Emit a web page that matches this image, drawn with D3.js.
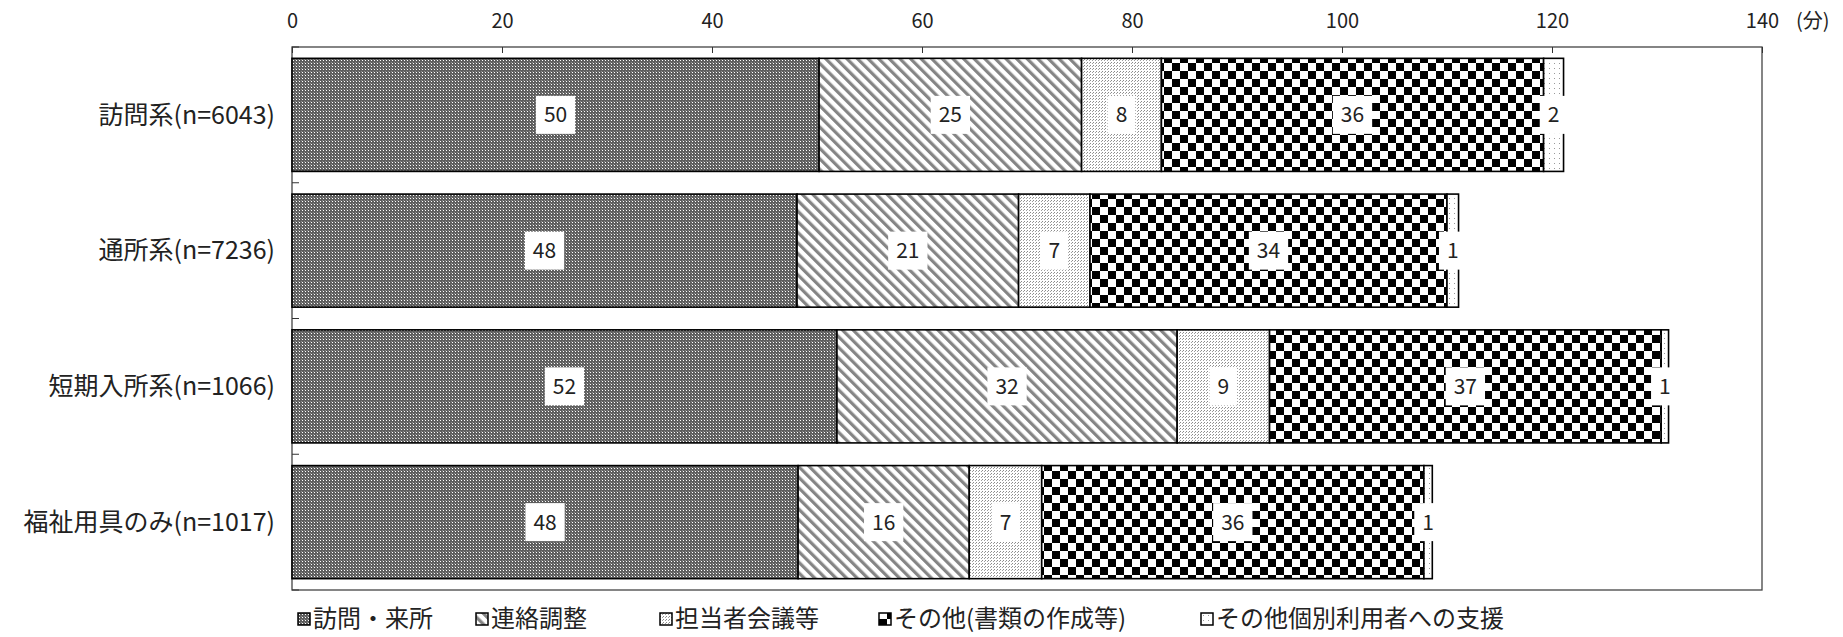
<!DOCTYPE html>
<html>
<head>
<meta charset="utf-8">
<script src="https://cdn.jsdelivr.net/npm/d3@7"></script>
<style>
body { margin: 0; background: #fff; }
text { font-family: "Noto Sans CJK JP", "Noto Sans", sans-serif; fill: #222; }
</style>
</head>
<body>
<svg id="chart" width="1843" height="637"></svg>
<script>
// categories (rows) and the five series, values in minutes
var categories = ["訪問系(n=6043)", "通所系(n=7236)", "短期入所系(n=1066)", "福祉用具のみ(n=1017)"];
var seriesNames = ["訪問・来所", "連絡調整", "担当者会議等", "その他(書類の作成等)", "その他個別利用者への支援"];
var visit = [50.2, 48.1, 51.9, 48.2];
var contact = [25.0, 21.1, 32.4, 16.3];
var meeting = [7.6, 6.8, 8.8, 6.9];
var documents = [36.4, 34.0, 37.3, 36.4];
var otherSupport = [1.9, 1.1, 0.7, 0.8];
var xTicks = [0, 20, 40, 60, 80, 100, 120, 140];
var unitLabel = "(分)";

var svg = d3.select("#chart"),
    margin = {top: 47, right: 81, bottom: 47, left: 292},
    width = +svg.attr("width") - margin.left - margin.right,
    height = +svg.attr("height") - margin.top - margin.bottom;

// rows for the stack
var rows = categories.map(function(c, i) {
    var r = {cat: c};
    r[seriesNames[0]] = visit[i];
    r[seriesNames[1]] = contact[i];
    r[seriesNames[2]] = meeting[i];
    r[seriesNames[3]] = documents[i];
    r[seriesNames[4]] = otherSupport[i];
    return r;
});
var stacked = d3.stack().keys(seriesNames)(rows);

var x = d3.scaleLinear().domain([0, 140]).range([0, width]);
var y = d3.scaleBand().domain(categories).range([0, height])
    .paddingInner(0.167).paddingOuter(0.0835);

/////////////////// patterns //////////////////
var defs = svg.append("defs");

var p0 = defs.append("pattern").attr("id", "pat0").attr("patternUnits", "userSpaceOnUse")
    .attr("width", 3).attr("height", 3);
p0.append("rect").attr("width", 3).attr("height", 3).attr("fill", "#5e5e5e");
p0.append("rect").attr("x", 1).attr("y", 1).attr("width", 1).attr("height", 1).attr("fill", "#ffffff");
p0.append("rect").attr("x", 0).attr("y", 0).attr("width", 1).attr("height", 1).attr("fill", "#8c8c8c");

var p1 = defs.append("pattern").attr("id", "pat1").attr("patternUnits", "userSpaceOnUse")
    .attr("width", 7.5).attr("height", 7.5).attr("patternTransform", "rotate(-45)");
p1.append("rect").attr("width", 7.5).attr("height", 7.5).attr("fill", "#fff");
p1.append("rect").attr("width", 3.2).attr("height", 7.5).attr("fill", "#858585");

var p2 = defs.append("pattern").attr("id", "pat2").attr("patternUnits", "userSpaceOnUse")
    .attr("width", 3).attr("height", 3);
p2.append("rect").attr("width", 3).attr("height", 3).attr("fill", "#fff");
p2.append("rect").attr("x", 0).attr("y", 0).attr("width", 1).attr("height", 1).attr("fill", "#8a8a8a");
p2.append("rect").attr("x", 2).attr("y", 1).attr("width", 1).attr("height", 1).attr("fill", "#a0a0a0");

var p3 = defs.append("pattern").attr("id", "pat3").attr("patternUnits", "userSpaceOnUse")
    .attr("width", 16).attr("height", 16);
p3.append("rect").attr("width", 16).attr("height", 16).attr("fill", "#fff");
p3.append("rect").attr("x", 0).attr("y", 0).attr("width", 8).attr("height", 8).attr("fill", "#000");
p3.append("rect").attr("x", 8).attr("y", 8).attr("width", 8).attr("height", 8).attr("fill", "#000");

var p4 = defs.append("pattern").attr("id", "pat4").attr("patternUnits", "userSpaceOnUse")
    .attr("width", 5).attr("height", 5);
p4.append("rect").attr("width", 5).attr("height", 5).attr("fill", "#fff");
p4.append("rect").attr("x", 2).attr("y", 1).attr("width", 1).attr("height", 1).attr("fill", "#999");

var fills = ["url(#pat0)", "url(#pat1)", "url(#pat2)", "url(#pat3)", "url(#pat4)"];

var g = svg.append("g")
    .attr("transform", "translate(" + margin.left + "," + margin.top + ")");

// plot frame
g.append("rect")
    .attr("x", 0).attr("y", 0)
    .attr("width", width).attr("height", height)
    .attr("fill", "none")
    .attr("stroke", "#444")
    .attr("stroke-width", 1.3);

// top axis, ticks pointing inside
var xAxis = g.append("g")
    .call(d3.axisTop(x).tickValues(xTicks).tickSize(-6).tickPadding(19));
xAxis.select(".domain").remove();
xAxis.selectAll("line").attr("stroke", "#333");
xAxis.selectAll("text")
    .attr("font-size", 20)
    .style("font-family", "\"Noto Sans CJK JP\", sans-serif")
    .attr("fill", "#222");

g.append("text")
    .attr("x", width + 34)
    .attr("y", -26)
    .attr("dy", "0.35em")
    .attr("text-anchor", "start")
    .attr("font-size", 20)
    .text(unitLabel);

// category boundary ticks on the left axis
var step = y.step();
g.selectAll(".catTick")
    .data(d3.range(categories.length + 1))
    .enter()
    .append("line")
    .attr("class", "catTick")
    .attr("x1", 0).attr("x2", 7)
    .attr("y1", function(d) { return d * step; })
    .attr("y2", function(d) { return d * step; })
    .attr("stroke", "#333");

// category labels
g.selectAll(".catLabel")
    .data(categories)
    .enter()
    .append("text")
    .attr("class", "catLabel")
    .attr("x", -17)
    .attr("y", function(d) { return y(d) + y.bandwidth() / 2; })
    .attr("dy", "0.35em")
    .attr("text-anchor", "end")
    .attr("font-size", 25)
    .text(function(d) { return d; });

// bars
var layers = g.selectAll(".layer")
    .data(stacked)
    .enter()
    .append("g")
    .attr("class", "layer")
    .attr("fill", function(d, i) { return fills[i]; });

layers.selectAll("rect")
    .data(function(d) { return d; })
    .enter()
    .append("rect")
    .attr("x", function(d) { return x(d[0]); })
    .attr("y", function(d) { return y(d.data.cat); })
    .attr("width", function(d) { return x(d[1]) - x(d[0]); })
    .attr("height", y.bandwidth())
    .attr("stroke", "#000")
    .attr("stroke-width", 1.6);

// value labels with white boxes
stacked.forEach(function(layer) {
    layer.forEach(function(d) {
        var cx = (x(d[0]) + x(d[1])) / 2,
            cy = y(d.data.cat) + y.bandwidth() / 2;
        var lg = g.append("g").attr("transform", "translate(" + cx + "," + cy + ")");
        var box = lg.append("rect").attr("fill", "#fff");
        var t = lg.append("text")
            .attr("text-anchor", "middle")
            .attr("dy", "0.36em")
            .attr("font-size", 21)
            .text(Math.round(d[1] - d[0]));
        var w = t.node().getComputedTextLength() + 16;
        box.attr("x", -w / 2).attr("y", -19).attr("width", w).attr("height", 38);
    });
});

/////////////////// legend //////////////////
// left edge of each legend entry
var legendOffsets = [0, 178, 362, 581, 903];
var legend = svg.append("g").attr("transform", "translate(298,619)");
seriesNames.forEach(function(name, i) {
    var item = legend.append("g").attr("transform", "translate(" + legendOffsets[i] + ",0)");
    item.append("rect")
        .attr("x", 0).attr("y", -6)
        .attr("width", 12).attr("height", 12)
        .attr("fill", fills[i])
        .attr("stroke", "#000")
        .attr("stroke-width", 1.5);
    item.append("text")
        .attr("x", 15)
        .attr("dy", "0.35em")
        .attr("font-size", 24)
        .text(name);
});
</script>
</body>
</html>
